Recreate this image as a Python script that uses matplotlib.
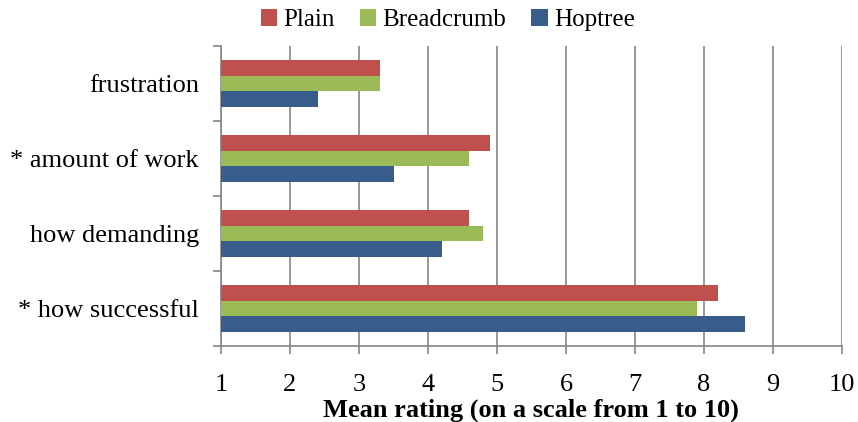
import matplotlib
matplotlib.use("Agg")
import matplotlib.pyplot as plt
import numpy as np

plt.rcParams['font.family'] = ['Liberation Serif', 'DejaVu Serif']

categories = ['frustration', '* amount of work', 'how demanding', '* how successful']
plain = [3.3, 4.9, 4.6, 8.2]
breadcrumb = [3.3, 4.6, 4.8, 7.9]
hoptree = [2.4, 3.5, 4.2, 8.6]
x_ticks = [1, 2, 3, 4, 5, 6, 7, 8, 9, 10]

fig = plt.figure(figsize=(8.58, 4.22), dpi=100)
ax = fig.add_axes([221/858, 1-346/422, 621/858, 300/422])

# categories from top to bottom
y = np.arange(len(categories))[::-1]
h = 0.213
ax.barh(y + h, np.array(plain) - 1, h, left=1, color='#C0504D', label='Plain', zorder=3)
ax.barh(y, np.array(breadcrumb) - 1, h, left=1, color='#9BBB59', label='Breadcrumb', zorder=3)
ax.barh(y - h, np.array(hoptree) - 1, h, left=1, color='#385D8A', label='Hoptree', zorder=3)

ax.set_xlim(1, 10)
ax.set_ylim(-0.5, len(categories) - 0.5)
ax.set_xticks(x_ticks)
ax.set_yticks(y)
ax.set_yticklabels(categories)
ax.set_yticks(np.arange(len(categories) + 1) - 0.5, minor=True)
ax.tick_params(axis='y', which='major', length=0, pad=25, labelsize=19)
ax.tick_params(axis='y', which='minor', length=6, color='#868686', width=1.2)
ax.tick_params(axis='x', length=6, color='#868686', width=1.2, pad=14, labelsize=19)
ax.tick_params(axis='y', which='major', pad=16)

ax.grid(axis='x', color='#868686', lw=1.2, zorder=0)
for s in ['top', 'right']:
    ax.spines[s].set_visible(False)
for s in ['left', 'bottom']:
    ax.spines[s].set_color('#868686')
    ax.spines[s].set_linewidth(1.2)

fig.text(531/858, 1-410/422, 'Mean rating (on a scale from 1 to 10)', fontsize=19,
         fontweight='bold', ha='center', va='center')

fig.legend(loc='center', bbox_to_anchor=(448/858, 1-20/422), ncol=3, frameon=False,
           fontsize=18, handlelength=0.65, handleheight=0.65, handletextpad=0.25, columnspacing=1.0)

fig.savefig('out.png', dpi=100)
